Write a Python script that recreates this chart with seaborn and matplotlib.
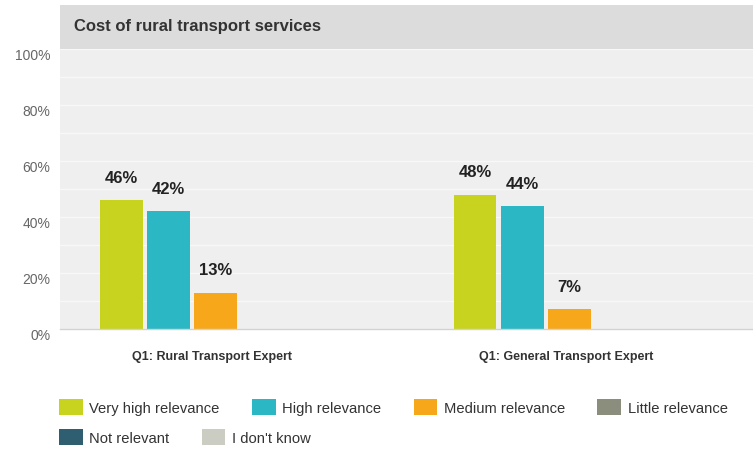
import matplotlib
matplotlib.use("Agg")
import matplotlib.pyplot as plt
import matplotlib.transforms as mtrans
from matplotlib.patches import Rectangle, Patch
import pandas as pd
import seaborn as sns

# Survey results: share of respondents per relevance level
groups = ["Q1: Rural Transport Expert", "Q1: General Transport Expert"]
levels = ["Very high relevance", "High relevance", "Medium relevance",
          "Little relevance", "Not relevant", "I don't know"]
very_high = [46, 48]
high = [42, 44]
medium = [13, 7]
little = [0, 0]
not_relevant = [0, 0]
dont_know = [0, 0]
y_ticks = [0, 20, 40, 60, 80, 100]

colors = ["#c8d31f", "#2bb8c4", "#f6a81a", "#8b8e7c", "#2e5e70", "#cbcdc2"]

series = [very_high, high, medium, little, not_relevant, dont_know]
rows = []
for lvl, vals in zip(levels, series):
    for g, v in zip(groups, vals):
        rows.append({"group": g, "level": lvl, "value": v})
df = pd.DataFrame(rows)

sns.set_style("white")
plt.rcParams["font.family"] = ["Liberation Sans", "DejaVu Sans"]

W, H = 753, 452
fig = plt.figure(figsize=(W / 100, H / 100), dpi=100)
fig.patch.set_facecolor("white")

ax_left, ax_right, ax_top, ax_bottom = 60, 753, 50, 330
ax = fig.add_axes([ax_left / W, 1 - ax_bottom / H,
                   (ax_right - ax_left) / W, (ax_bottom - ax_top) / H])
ax.set_facecolor("#efefef")

sns.barplot(data=df, x="group", y="value", hue="level", order=groups,
            hue_order=levels, palette=colors, saturation=1, width=0.8,
            errorbar=None, legend=False, ax=ax)

# leave a thin gap between neighbouring bars
for p in ax.patches:
    w = p.get_width()
    p.set_x(p.get_x() + w * 0.045)
    p.set_width(w * 0.91)
    p.set_edgecolor("none")

for c in ax.containers:
    labels = [f"{v:.0f}%" if v > 0 else "" for v in c.datavalues]
    ax.bar_label(c, labels=labels, padding=11, fontsize=12,
                 fontweight="bold", color="#222222")

ax.set_xlim(-0.507, 1.453)
ax.set_ylim(0, 100)
ax.set_yticks(y_ticks)
ax.set_yticklabels([f"{t}%" for t in y_ticks])
ax.set_yticks(range(0, 101, 10), minor=True)
ax.grid(which="both", axis="y", color="#f8f8f8", linewidth=1.0)
ax.set_axisbelow(True)
ax.set_xlabel("")
ax.set_ylabel("")

for s in ["top", "left", "right"]:
    ax.spines[s].set_visible(False)
ax.spines["bottom"].set_color("#d2d2d2")
ax.spines["bottom"].set_linewidth(1)

ax.tick_params(axis="y", which="both", length=0, pad=7, labelsize=10,
               labelcolor="#666666")
ax.tick_params(axis="x", length=0, pad=15, labelsize=9,
               labelcolor="#333333")
for t in ax.get_xticklabels():
    t.set_fontweight("bold")
    t.set_transform(t.get_transform() +
                    mtrans.ScaledTranslation(-27 / 100, 0, fig.dpi_scale_trans))
for t in ax.get_yticklabels():
    t.set_transform(t.get_transform() +
                    mtrans.ScaledTranslation(0, -5 / 100, fig.dpi_scale_trans))

# title band
fig.add_artist(Rectangle((ax_left / W, 1 - ax_top / H), (ax_right - ax_left) / W,
                         44 / H, transform=fig.transFigure,
                         facecolor="#dcdcdc", edgecolor="none", zorder=0))
fig.text(74 / W, 1 - 27 / H, "Cost of rural transport services",
         fontsize=12, fontweight="bold", color="#333333", va="center", ha="left")

handles = [Patch(facecolor=c, edgecolor="none") for c in colors]
leg_kw = dict(loc="center left", frameon=False, borderpad=0, borderaxespad=0,
              handlelength=1.6, handleheight=1.3, handletextpad=0.45,
              columnspacing=2.2, fontsize=10.6, labelcolor="#333333")
fig.legend(handles[:4], levels[:4], ncol=4,
           bbox_to_anchor=(59 / W, 1 - 408 / H), **leg_kw)
fig.legend(handles[4:], levels[4:], ncol=2,
           bbox_to_anchor=(59 / W, 1 - 438 / H), **leg_kw)

fig.savefig("out.png", dpi=100)
